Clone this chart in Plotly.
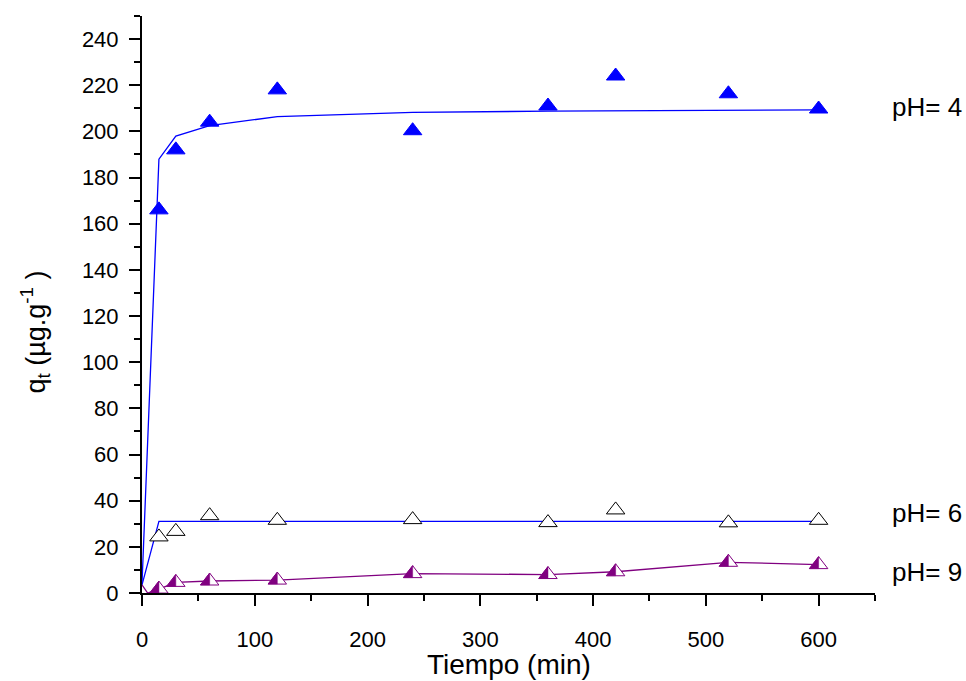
import plotly.graph_objects as go

# ---------------- data ----------------
t_exp = [15, 30, 60, 120, 240, 360, 420, 520, 600]
q_ph4 = [166, 192, 204, 218, 200.3, 211, 224, 216.3, 209.7]
q_ph6 = [24.3, 26.7, 33.5, 31.5, 31.8, 30.5, 36, 30.4, 31.5]
q_ph9 = [1.7, 4.6, 5.2, 5.6, 8.4, 8.0, 9.2, 13.3, 12.3]

t_fit = [0, 15, 30, 60, 120, 240, 360, 420, 520, 600]
fit_ph4 = [4, 188, 198, 202.5, 206.4, 208.2, 208.8, 209.0, 209.2, 209.3]
fit_ph6 = [3.5, 31, 31, 31, 31, 31, 31, 31, 31, 31]

t_ph9_line = [0, 5, 15, 30, 60, 120, 240, 360, 420, 520, 600]
q_ph9_line = [3.5, 0, 1.7, 4.6, 5.2, 5.6, 8.4, 8.0, 9.2, 13.3, 12.3]

labels = ["pH= 4", "pH= 6", "pH= 9"]
label_y = [210.7, 34.7, 9.2]

x_range = [0, 650]
y_range = [0, 250]

BLUE = "#0000FF"
PURPLE = "#800080"
FONT = "Liberation Sans, Arial, sans-serif"
MSIZE = 16

fig = go.Figure()

# fit / connecting lines
fig.add_trace(go.Scatter(x=t_fit, y=fit_ph4, mode="lines",
                         line=dict(color=BLUE, width=1.3), showlegend=False))
fig.add_trace(go.Scatter(x=t_fit, y=fit_ph6, mode="lines",
                         line=dict(color=BLUE, width=1.3), showlegend=False))
fig.add_trace(go.Scatter(x=t_ph9_line, y=q_ph9_line, mode="lines",
                         line=dict(color=PURPLE, width=1.3), showlegend=False))

# pH 4: filled blue triangles
fig.add_trace(go.Scatter(x=t_exp, y=q_ph4, mode="markers",
                         marker=dict(symbol="triangle-up", size=MSIZE, color=BLUE,
                                     line=dict(color=BLUE, width=1)),
                         showlegend=False))
# pH 6: open black triangles
fig.add_trace(go.Scatter(x=t_exp, y=q_ph6, mode="markers",
                         marker=dict(symbol="triangle-up", size=MSIZE, color="white",
                                     line=dict(color="black", width=1)),
                         showlegend=False))
# pH 9: half-filled purple triangles: white triangle + left half filled
fig.add_trace(go.Scatter(x=t_exp, y=q_ph9, mode="markers",
                         marker=dict(symbol="triangle-up", size=MSIZE, color="white",
                                     line=dict(color=PURPLE, width=1)),
                         showlegend=False))

# left-half fill, same geometry as plotly's triangle-up marker (pixel offsets)
r = MSIZE / 2.0
rt = r * 2 / 3 ** 0.5
half_path = "M {:.2f} {:.2f} L 0 {:.2f} L 0 {:.2f} Z".format(-rt, -r / 2, -r / 2, r)
for xv, yv in zip(t_exp, q_ph9):
    fig.add_shape(type="path", xref="x", yref="y", xsizemode="pixel", ysizemode="pixel",
                  xanchor=xv, yanchor=yv, path=half_path,
                  fillcolor=PURPLE, line=dict(color=PURPLE, width=0.5), layer="above")

for lab, yv in zip(labels, label_y):
    fig.add_annotation(text=lab, xref="paper", x=1.0205, xanchor="left",
                       yref="y", y=yv, yanchor="middle", showarrow=False,
                       font=dict(family=FONT, size=26, color="black"))

fig.add_annotation(text="q<sub>t</sub> (µg.g<sup>-1</sup> )", xref="paper", x=-0.146,
                   xanchor="center", yref="paper", y=0.453, yanchor="middle",
                   textangle=-90, showarrow=False,
                   font=dict(family=FONT, size=27, color="black"))

fig.add_annotation(text="Tiempo (min)", xref="paper", x=0.5, xanchor="center",
                   yref="paper", y=-0.124, yanchor="middle", showarrow=False,
                   font=dict(family=FONT, size=28, color="black"))

axis_common = dict(showgrid=False, zeroline=False, showline=True, linecolor="black",
                   linewidth=2, ticks="outside", ticklen=11, tickwidth=2,
                   tickcolor="black", mirror=False,
                   tickfont=dict(family=FONT, size=22, color="black"))

fig.update_xaxes(range=x_range, dtick=100, tick0=0,
                 minor=dict(dtick=50, ticks="outside", ticklen=6, tickwidth=2,
                            tickcolor="black"),
                 ticklabelstandoff=15,
                 **axis_common)
fig.update_yaxes(range=y_range, dtick=20, tick0=0,
                 minor=dict(dtick=10, ticks="outside", ticklen=6, tickwidth=2,
                            tickcolor="black"),
                 ticklabelstandoff=6,
                 **axis_common)

fig.update_layout(width=966, height=681,
                  margin=dict(l=142, r=91, t=16, b=88, autoexpand=False),
                  paper_bgcolor="white", plot_bgcolor="white",
                  showlegend=False)

fig.write_html("out.html")
